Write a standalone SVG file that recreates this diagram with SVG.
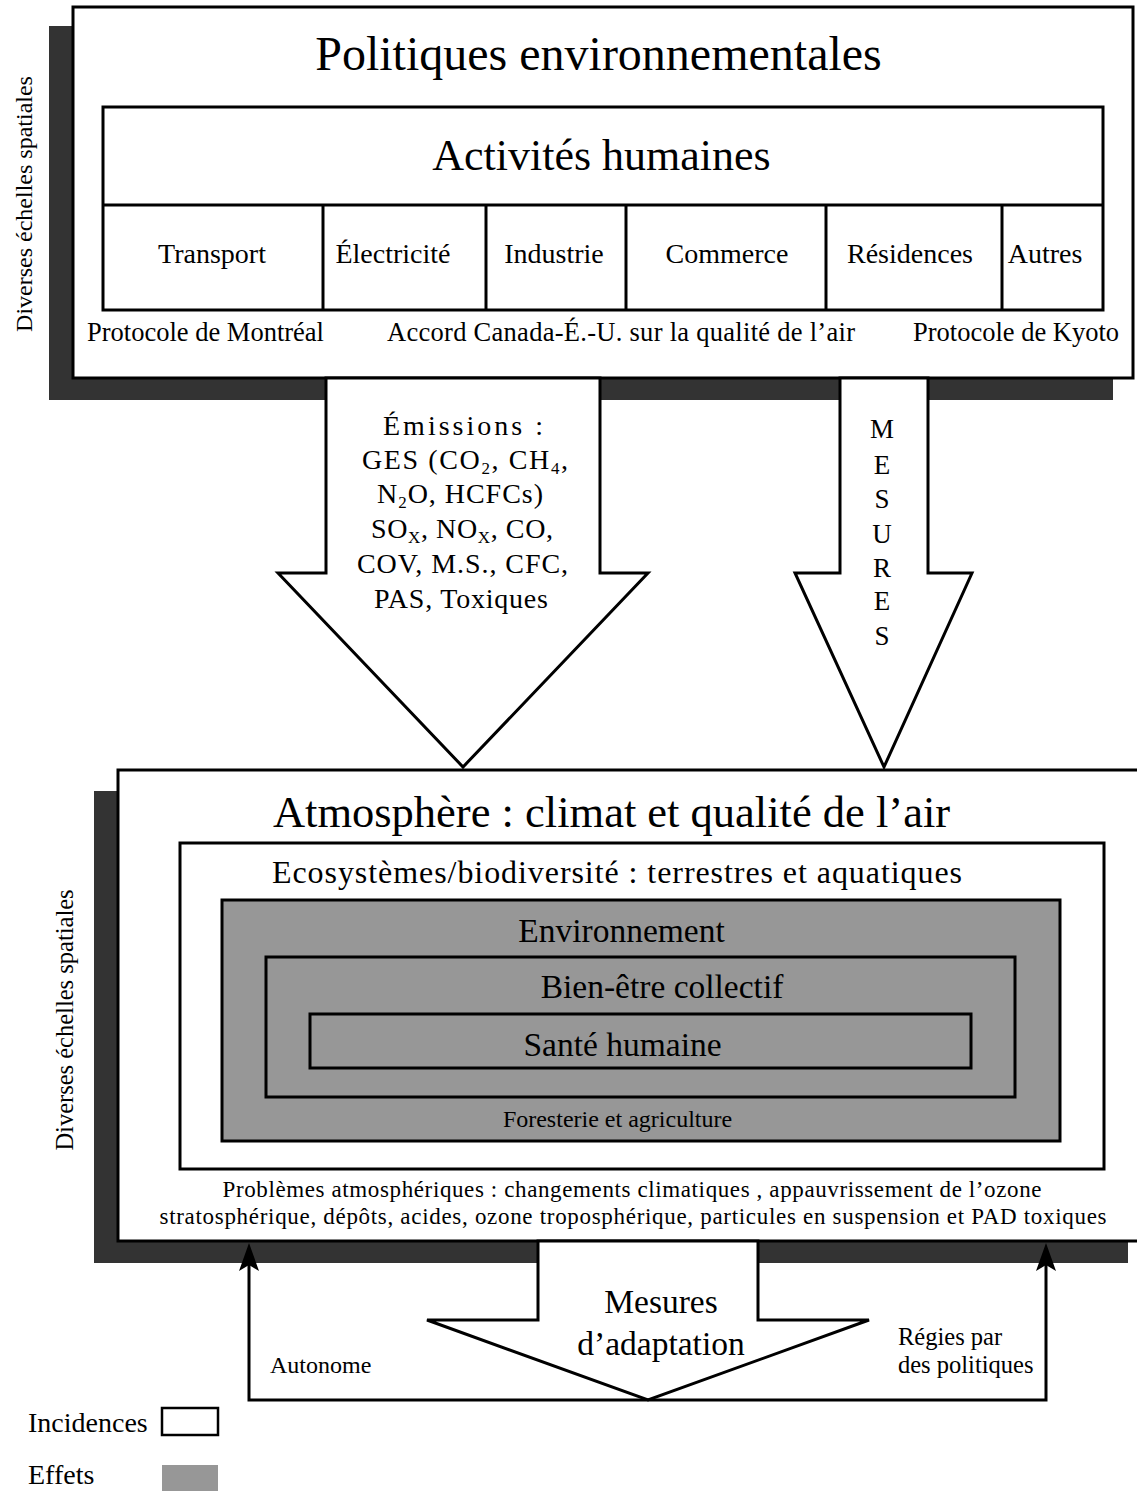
<svg xmlns="http://www.w3.org/2000/svg" width="1137" height="1491" viewBox="0 0 1137 1491">
<style>
text{font-family:"Liberation Serif","Times New Roman",serif;fill:#000}
.shadow{fill:#333}
.box{fill:#fff;stroke:#000;stroke-width:3}
.gray{fill:#979797;stroke:#000;stroke-width:3}
.ln{fill:none;stroke:#000;stroke-width:3}
.big{text-anchor:middle}
</style>
<defs>
<marker id="ah" markerUnits="userSpaceOnUse" orient="auto" markerWidth="40" markerHeight="30" refX="0" refY="0" viewBox="-15 -15 40 30" overflow="visible">
<path d="M19,0 L-9,-10 L-3,0 L-9,10 Z" fill="#000"/>
</marker>
</defs>

<g id="shadows">
<rect class="shadow" x="49" y="26" width="1064" height="374"/>
<rect class="shadow" x="94" y="791" width="1034" height="472"/>
</g>

<g id="politiques">
<rect class="box" x="73" y="7" width="1060" height="371"/>
<text class="big" x="598.5" y="70" font-size="48">Politiques environnementales</text>
<text x="87" y="341" font-size="26.5">Protocole de Montréal</text>
<text x="387" y="341" font-size="26.5" textLength="468" lengthAdjust="spacing">Accord Canada-É.-U.  sur la qualité de l’air</text>
<text x="913" y="341" font-size="26.5">Protocole de Kyoto</text>
</g>

<g id="activites">
<rect class="box" x="103" y="107" width="1000" height="203"/>
<line class="ln" x1="103" y1="205" x2="1103" y2="205"/>
<text class="big" x="601.5" y="170" font-size="44">Activités humaines</text>
</g>
<g id="transport"><line class="ln" x1="323" y1="205" x2="323" y2="310"/><text class="big" x="212" y="263" font-size="28">Transport</text></g>
<g id="electricite"><line class="ln" x1="486" y1="205" x2="486" y2="310"/><text class="big" x="393" y="263" font-size="28">Électricité</text></g>
<g id="industrie"><line class="ln" x1="626" y1="205" x2="626" y2="310"/><text class="big" x="554" y="263" font-size="28">Industrie</text></g>
<g id="commerce"><line class="ln" x1="826" y1="205" x2="826" y2="310"/><text class="big" x="727" y="263" font-size="28">Commerce</text></g>
<g id="residences"><line class="ln" x1="1002" y1="205" x2="1002" y2="310"/><text class="big" x="910" y="263" font-size="28">Résidences</text></g>
<g id="autres"><text class="big" x="1045" y="263" font-size="28">Autres</text></g>

<g id="label-top">
<text class="big" transform="translate(32,204) rotate(-90)" font-size="24">Diverses échelles spatiales</text>
</g>

<g id="emissions">
<polygon class="box" points="326,378 600,378 600,573 648,573 463,767 278,573 326,573"/>
<g font-size="28">
<text x="383" y="435" textLength="160" lengthAdjust="spacing">Émissions :</text>
<text x="362" y="469" textLength="206" lengthAdjust="spacing">GES  (CO<tspan font-size="17" dy="5">2</tspan><tspan dy="-5">, CH</tspan><tspan font-size="17" dy="5">4</tspan><tspan dy="-5">,</tspan></text>
<text x="377" y="503" textLength="166" lengthAdjust="spacing">N<tspan font-size="17" dy="5">2</tspan><tspan dy="-5">O, HCFCs)</tspan></text>
<text x="371" y="538" textLength="182" lengthAdjust="spacing">SO<tspan font-size="17" dy="5">X</tspan><tspan dy="-5">, NO</tspan><tspan font-size="17" dy="5">X</tspan><tspan dy="-5">, CO,</tspan></text>
<text x="357" y="573" textLength="211" lengthAdjust="spacing">COV, M.S., CFC,</text>
<text x="374" y="608" textLength="174" lengthAdjust="spacing">PAS, Toxiques</text>
</g>
</g>

<g id="mesures">
<polygon class="box" points="840,378 928,378 928,573 972,573 884,767 795,573 840,573"/>
<g class="big" font-size="27">
<text x="882" y="438">M</text>
<text x="882" y="474">E</text>
<text x="882" y="508">S</text>
<text x="882" y="543">U</text>
<text x="882" y="577">R</text>
<text x="882" y="610">E</text>
<text x="882" y="645">S</text>
</g>
</g>

<g id="atmosphere">
<rect class="box" x="118" y="770" width="1040" height="471"/>
<text class="big" x="611.5" y="827" font-size="44.5">Atmosphère : climat et qualité de l’air</text>
<text class="big" x="632" y="1197" font-size="23" textLength="819" lengthAdjust="spacing">Problèmes atmosphériques : changements climatiques , appauvrissement de l’ozone</text>
<text class="big" x="633" y="1224" font-size="23" textLength="947" lengthAdjust="spacing">stratosphérique, dépôts, acides, ozone troposphérique, particules en suspension et PAD  toxiques</text>
</g>

<g id="label-bottom">
<text class="big" transform="translate(73,1020) rotate(-90)" font-size="24.5">Diverses échelles spatiales</text>
</g>

<g id="ecosystemes">
<rect class="box" x="180" y="843" width="924" height="326"/>
<text class="big" x="617" y="883" font-size="32" textLength="690" lengthAdjust="spacing">Ecosystèmes/biodiversité : terrestres et aquatiques</text>
</g>

<g id="environnement">
<rect class="gray" x="222" y="900" width="838" height="241"/>
<text class="big" x="621.5" y="942" font-size="33.5">Environnement</text>
<text class="big" x="617.5" y="1127" font-size="24">Foresterie et agriculture</text>
</g>

<g id="bien-etre">
<rect class="gray" x="266" y="957" width="749" height="140"/>
<text class="big" x="662" y="998" font-size="33.5">Bien-être collectif</text>
</g>

<g id="sante">
<rect class="gray" x="310" y="1014" width="661" height="54"/>
<text class="big" x="622.5" y="1056" font-size="33.5">Santé humaine</text>
</g>

<g id="adaptation">
<polygon class="box" points="538,1241 758,1241 758,1320 869,1320 648,1400 427,1320 538,1320"/>
<text class="big" x="661" y="1313" font-size="33.5">Mesures</text>
<text class="big" x="661" y="1355" font-size="33.5">d’adaptation</text>
</g>

<g id="connectors">
<path class="ln" d="M648,1400 H249 V1262" marker-end="url(#ah)"/>
<path class="ln" d="M648,1400 H1046 V1262" marker-end="url(#ah)"/>
<text x="270" y="1373" font-size="24">Autonome</text>
<text x="898" y="1345" font-size="24.5">Régies par</text>
<text x="898" y="1373" font-size="24.5">des politiques</text>
</g>

<g id="legend">
<text x="28" y="1432" font-size="28">Incidences</text>
<rect x="162" y="1408" width="56" height="27" fill="#fff" stroke="#000" stroke-width="2.5"/>
<text x="28" y="1484" font-size="28">Effets</text>
<rect x="162" y="1465" width="56" height="26" fill="#979797"/>
</g>
</svg>
